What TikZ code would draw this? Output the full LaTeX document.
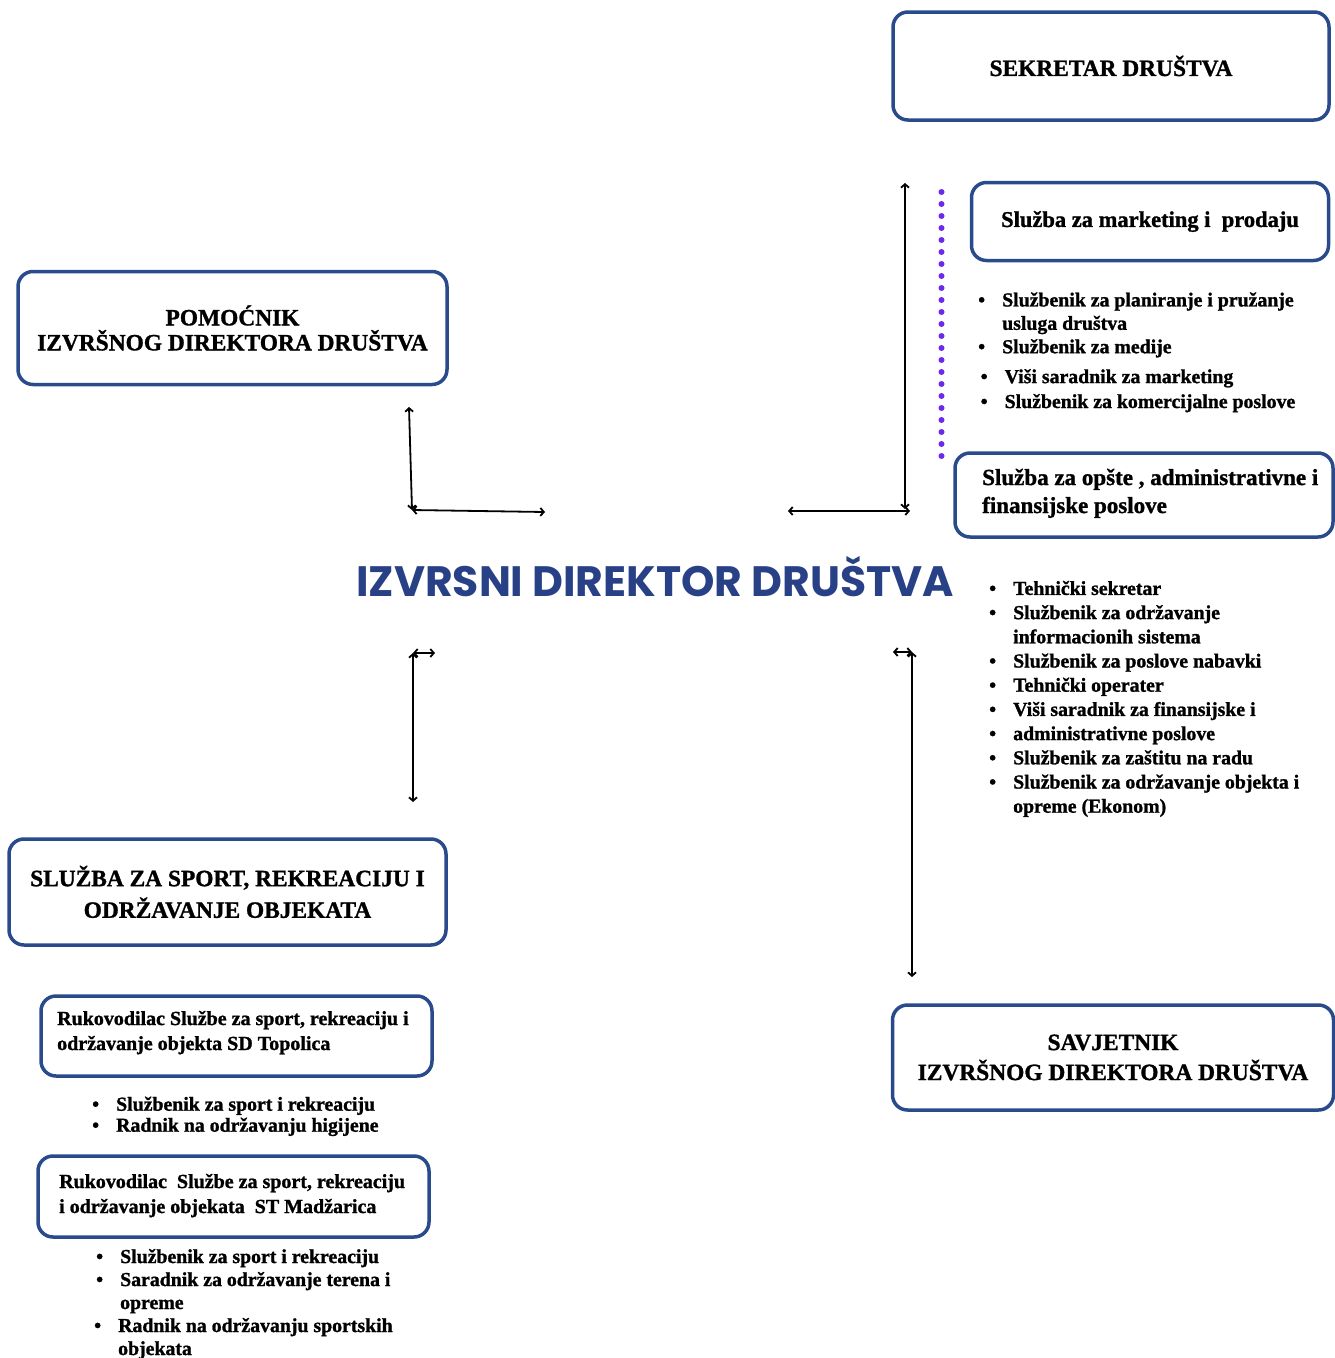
\documentclass[tikz,border=0pt]{standalone}
\usepackage{fontspec}
\setmainfont{Liberation Serif}[BoldFeatures={FakeBold=1.2}]
\newfontfamily\titlefont{Poppins}
\usepackage{tikz}
\usetikzlibrary{arrows.meta}

\definecolor{boxblue}{RGB}{41,75,140}
\definecolor{titleblue}{RGB}{40,64,133}
\definecolor{dotviolet}{RGB}{106,42,240}

\newcommand{\itm}{\makebox[24pt][l]{\textbullet}}
\newcommand{\cont}{\hspace*{24pt}}

\begin{document}
\begin{tikzpicture}[x=1pt,y=-1pt,
		unitbox/.style={draw=boxblue,line width=3.5pt,rounded corners=15pt,inner sep=0pt},
		capstext/.style={font=\fontsize{23.4}{#1}\selectfont\bfseries,align=center},
		headtext/.style={font=\fontsize{23}{28}\selectfont\bfseries,align=left,inner sep=0pt,anchor=base west},
		leadtext/.style={font=\fontsize{20}{25}\selectfont\bfseries,align=left,inner sep=0pt,anchor=base west},
		itemlist/.style={font=\fontsize{19.8}{#1}\selectfont\bfseries,align=left,inner sep=0pt,anchor=base west},
		titletext/.style={font=\titlefont\fontsize{42.5}{48}\selectfont\bfseries,text=titleblue,inner sep=0pt}]
		\useasboundingbox (0,0) rectangle (1335,1358);

		\begin{scope}[every node/.style={unitbox}]
			\node[capstext=25,minimum width=436,minimum height=108] (sekretar) at (1111,66) {SEKRETAR DRUŠTVA};
			\node[capstext=25,font=\fontsize{22.5}{25}\selectfont\bfseries,minimum width=357,minimum height=78] (marketing) at (1150,221.5) {Služba za marketing i\ \ prodaju};
			\node[minimum width=378,minimum height=84] (opste) at (1144,495) {};
			\node[capstext=25,minimum width=429,minimum height=113] (pomocnik) at (232.5,328) {POMOĆNIK\\IZVRŠNOG DIREKTORA DRUŠTVA};
			\node[capstext=31.6,minimum width=437,minimum height=106] (sport) at (227.5,892) {SLUŽBA ZA SPORT, REKREACIJU I\\ODRŽAVANJE OBJEKATA};
			\node[minimum width=391,minimum height=80] (topolica) at (236.5,1036) {};
			\node[minimum width=391,minimum height=81] (madzarica) at (233.5,1196.5) {};
			\node[capstext=30,minimum width=441,minimum height=105] (savjetnik) at (1113,1057.5) {SAVJETNIK\\IZVRŠNOG DIREKTORA DRUŠTVA};
		\end{scope}

		\node[titletext,anchor=base] (direktor) at (655,596) {IZVRSNI DIREKTOR DRUŠTVA};

		% multi-line nodes sit on the baseline of their last line
		\node[headtext] (opstetext) at (982,513) {Služba za opšte , administrativne i\\finansijske poslove};
		\node[leadtext] (topolicatext) at (57,1050) {Rukovodilac Službe za sport, rekreaciju i\\održavanje objekta SD Topolica};
		\node[leadtext] (madzaricatext) at (59,1213) {Rukovodilac\ \ Službe za sport, rekreaciju\\i održavanje objekata\ \ ST Madžarica};

		\node[itemlist=23.4] (marketinglist) at (978,408) {\itm Službenik za planiranje i pružanje\\
			\cont usluga društva\\
			\itm Službenik za medije\\[6.5pt]
			\hspace*{2.5pt}\itm Viši saradnik za marketing\\[1.5pt]
			\hspace*{2.5pt}\itm Službenik za komercijalne poslove};
		\node[itemlist=24.2] (opstelist) at (989,812.7) {\itm Tehnički sekretar\\
			\itm Službenik za održavanje\\
			\cont informacionih sistema\\
			\itm Službenik za poslove nabavki\\
			\itm Tehnički operater\\
			\itm Viši saradnik za finansijske i\\
			\itm administrativne poslove\\
			\itm Službenik za zaštitu na radu\\
			\itm Službenik za održavanje objekta i\\
			\cont opreme (Ekonom)};
		\node[itemlist=21] (topolicalist) at (92,1131.7) {\itm Službenik za sport i rekreaciju\\
			\itm Radnik na održavanju higijene};
		\node[itemlist=23] (madzaricalist) at (96,1355) {\itm Službenik za sport i rekreaciju\\
			\itm Saradnik za održavanje terena i\\
			\cont opreme\\
			\hspace*{-2pt}\itm Radnik na održavanju sportskih\\
			\hspace*{-2pt}\cont objekata};

		% free ends of the connectors
		\coordinate (pomup) at (409,407);
		\coordinate (pomcorner) at (412,510);
		\coordinate (pomright) at (545,512);
		\coordinate (sekleft) at (788,511);
		\coordinate (sekcorner) at (910,511);
		\coordinate (sekup) at (905,183);
		\coordinate (sekdown) at (905,509);
		\coordinate (sportcorner) at (413,653);
		\coordinate (sportright) at (435,653);
		\coordinate (sportdown) at (413,802);
		\coordinate (savjleft) at (893,652);
		\coordinate (savjcorner) at (912,652);
		\coordinate (savjdown) at (912,977);
		\coordinate (dotstart) at (941.5,192);
		\coordinate (dotend) at (941.5,457);

		\begin{scope}[>={Straight Barb[length=3.5pt,width=8pt]},
		              every path/.style={draw=black,line width=1.8pt,<->}]
			\path (pomup) -- (pomcorner);
			\path (pomcorner) -- (pomright);
			\path (sekup) -- (sekdown);
			\path (sekleft) -- (sekcorner);
			\path (sportcorner) -- (sportright);
			\path (sportcorner) -- (sportdown);
			\path (savjleft) -- (savjcorner);
			\path (savjcorner) -- (savjdown);
		\end{scope}

		\draw[dotviolet,line width=6pt,line cap=round,dash pattern=on 0pt off 12pt] (dotstart) -- (dotend);
\end{tikzpicture}
\end{document}
